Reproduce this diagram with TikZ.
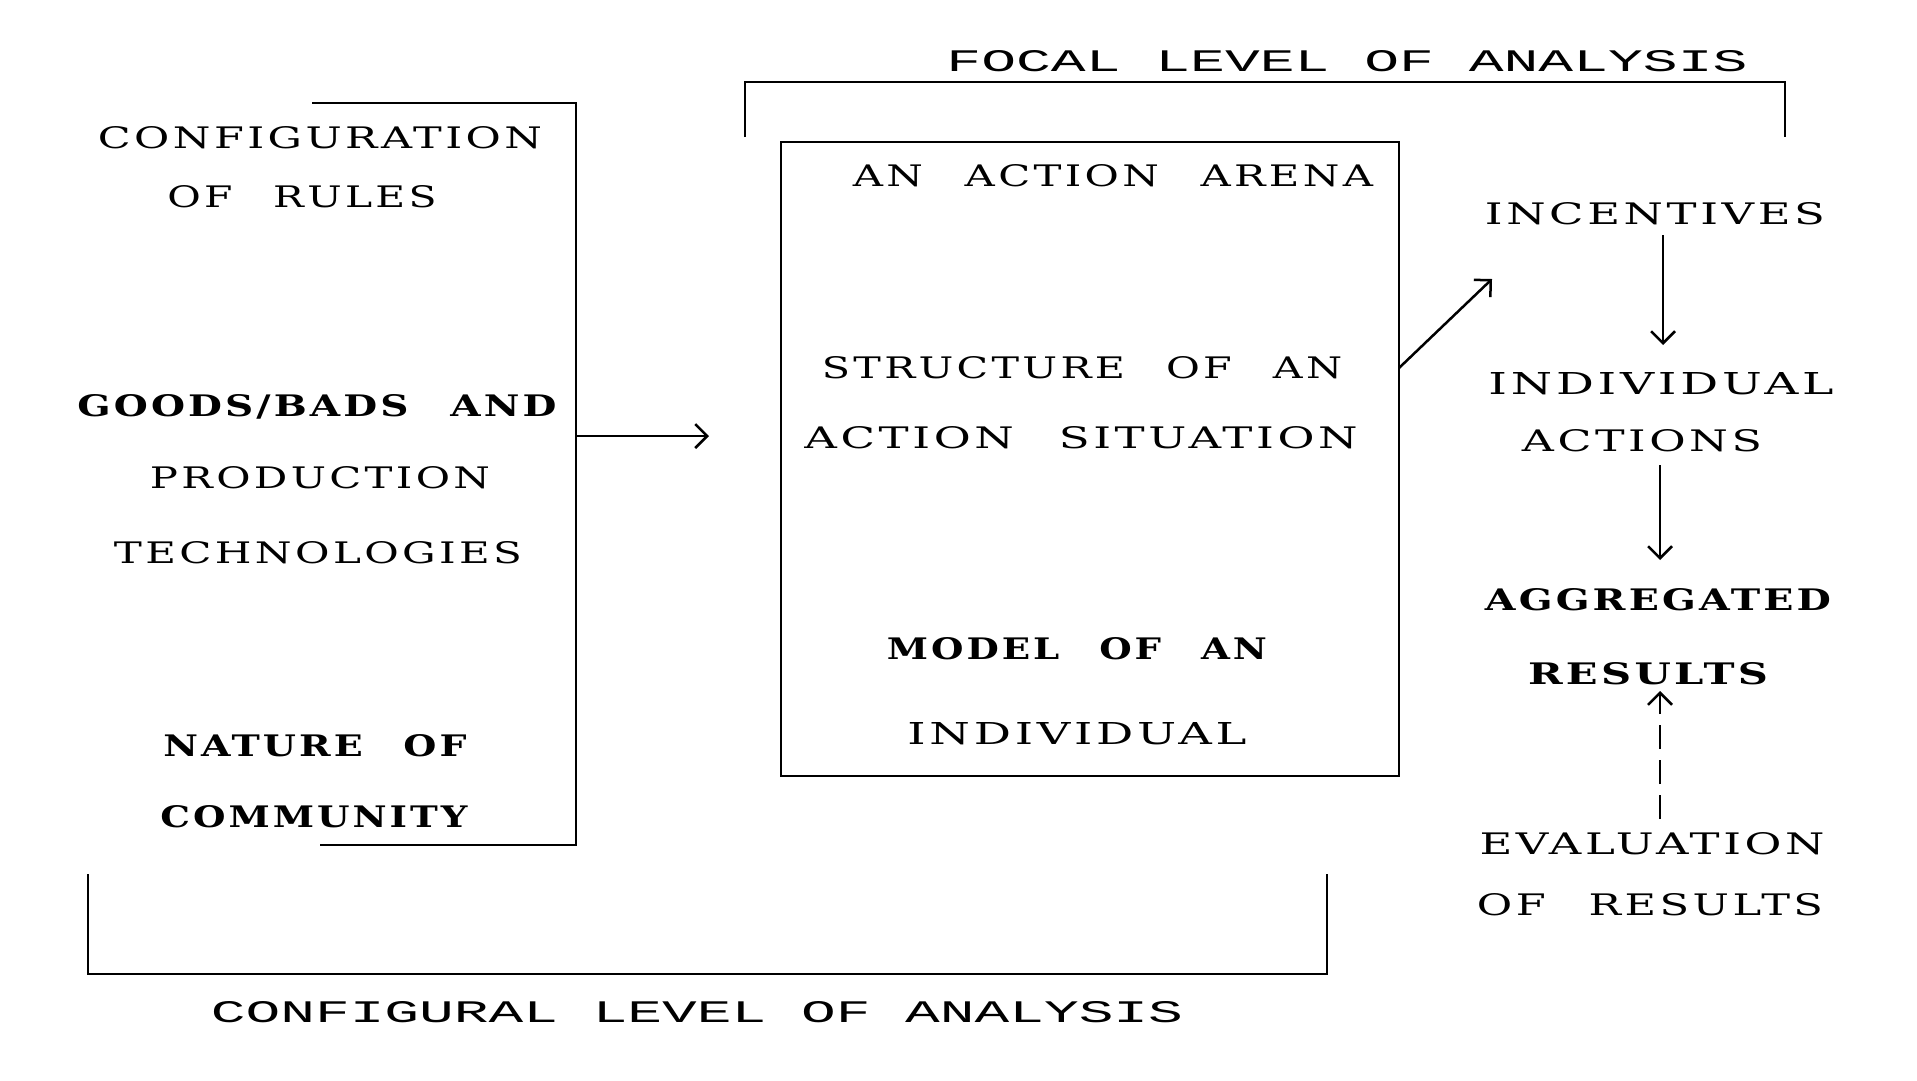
\documentclass[tikz,border=0pt]{standalone}
\usepackage{fontspec}
\usepackage{graphicx}
\usetikzlibrary{arrows.meta}
\newfontfamily\capfont[LetterSpace=8,WordSpace=2.5]{DejaVu Serif}
\newfontfamily\typefont{Liberation Mono}
\newcommand{\cw}[3][]{\resizebox{#2pt}{22pt}{\capfont#1\relax#3}}
\newcommand{\lw}[2]{\resizebox{#1pt}{21pt}{\typefont\relax#2}}
\tikzset{
  lbl/.style={inner sep=0pt, outer sep=0pt, anchor=center},
  ln/.style={line width=2.5pt},
  conn/.style={line width=2.5pt, -{Straight Barb[length=12pt,width=24pt,line width=2.5pt]}},
  dconn/.style={conn, dash pattern=on 24pt off 11pt}
}
\begin{document}
\begin{tikzpicture}[x=1pt,y=-1pt]
\useasboundingbox (0,0) rectangle (1917,1080);

% focal level bracket and label
\node[lbl] (focal) at (1347,61) {\lw{801}{FOCAL LEVEL OF ANALYSIS}};
\draw[ln] (745,137) -- (745,82) -- (1785,82) -- (1785,137);

% action arena box
\node[draw, ln, minimum width=618pt, minimum height=634pt, inner sep=0pt] (arena) at (1090,459) {};
\node[lbl] (t1) at (1113,176) {\cw{520}{AN ACTION ARENA}};
\node[lbl] (t2) at (1082,368) {\cw{520}{STRUCTURE OF AN}};
\node[lbl] (t3) at (1081,438) {\cw{553}{ACTION SITUATION}};
\node[lbl] (t4) at (1077,649) {\cw[\bfseries]{380}{MODEL OF AN}};
\node[lbl] (t5) at (1077,734) {\cw{339}{INDIVIDUAL}};

% left bracket
\draw[ln] (312,103) -- (576,103) -- (576,845) -- (320,845);
\node[lbl] (l1) at (320,138) {\cw{444}{CONFIGURATION}};
\node[lbl] (l2) at (302,197) {\cw{269}{OF RULES}};
\node[lbl] (l3) at (317,407) {\cw[\bfseries]{479}{GOODS/BADS AND}};
\node[lbl] (l4) at (320,478) {\cw{340}{PRODUCTION}};
\node[lbl] (l5) at (318,553) {\cw{408}{TECHNOLOGIES}};
\node[lbl] (l6) at (315,746) {\cw[\bfseries]{303}{NATURE OF}};
\node[lbl] (l7) at (314,817) {\cw[\bfseries]{307}{COMMUNITY}};

% right column
\node[lbl] (r1) at (1655,214) {\cw{340}{INCENTIVES}};
\node[lbl] (r2) at (1661,384) {\cw{345}{INDIVIDUAL}};
\node[lbl] (r3) at (1642,441) {\cw{240}{ACTIONS}};
\node[lbl] (r4) at (1658,600) {\cw[\bfseries]{346}{AGGREGATED}};
\node[lbl] (r5) at (1648,674) {\cw[\bfseries]{240}{RESULTS}};
\node[lbl] (r6) at (1652,844) {\cw{345}{EVALUATION}};
\node[lbl] (r7) at (1650,905) {\cw{346}{OF RESULTS}};

% configural level bracket and label
\draw[ln] (88,874) -- (88,974) -- (1327,974) -- (1327,874);
\node[lbl] (config) at (697,1012) {\lw{972}{CONFIGURAL LEVEL OF ANALYSIS}};

% connector end points
\coordinate (a1s) at (576,436);
\coordinate (a1e) at (709,436);
\coordinate (a2s) at (1399,368);
\coordinate (a2e) at (1492,279);
\coordinate (a3s) at (1663,235);
\coordinate (a3e) at (1663,345);
\coordinate (a4s) at (1660,465);
\coordinate (a4e) at (1660,560);
\coordinate (a5s) at (1660,819);
\coordinate (a5e) at (1660,691);

\draw[conn] (a1s) -- (a1e);
\draw[conn] (a2s) -- (a2e);
\draw[conn] (a3s) -- (a3e);
\draw[conn] (a4s) -- (a4e);
\draw[dconn] (a5s) -- (a5e);
\end{tikzpicture}
\end{document}
